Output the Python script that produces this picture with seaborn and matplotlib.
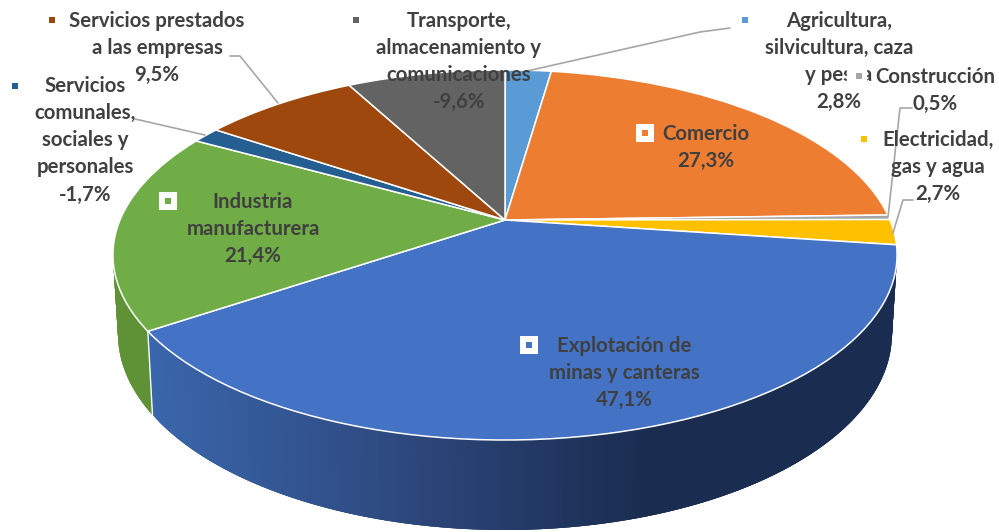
import numpy as np
import matplotlib
matplotlib.use("Agg")
import matplotlib.pyplot as plt
from matplotlib.path import Path
from matplotlib.transforms import Transform
import seaborn as sns

# ---- data ----
sectors = ["Agricultura, silvicultura, caza y pesca", "Comercio", "Construcción",
           "Electricidad, gas y agua", "Explotación de minas y canteras",
           "Industria manufacturera", "Servicios comunales, sociales y personales",
           "Servicios prestados a las empresas", "Transporte, almacenamiento y comunicaciones"]
variation = [2.8, 27.3, 0.5, 2.7, 47.1, 21.4, -1.7, 9.5, -9.6]
slice_colors = ["#5B9BD5", "#ED7D31", "#A5A5A5", "#FFC000", "#4472C4",
                "#70AD47", "#255E91", "#9E480E", "#636363"]
label_lines = ["Agricultura,\nsilvicultura, caza\ny pesca\n2,8%", "Comercio\n27,3%",
               "Construcción\n0,5%", "Electricidad,\ngas y agua\n2,7%",
               "Explotación de\nminas y canteras\n47,1%", "Industria\nmanufacturera\n21,4%",
               "Servicios\ncomunales,\nsociales y\npersonales\n-1,7%",
               "Servicios prestados\na las empresas\n9,5%",
               "Transporte,\nalmacenamiento y\ncomunicaciones\n-9,6%"]
label_xy = [(839, 11), (706, 124), (935, 67), (938, 130), (624, 336), (253, 192),
            (85, 76), (157, 11), (459, 11)]
key_xy = [(745, 20), (645, 133), (859, 76), (864, 139), (529, 345), (168, 201),
          (15, 86), (52, 20), (356, 20)]
key_white = [False, True, False, False, True, True, False, False, False]
leaders = [([730, 700, 527], [28, 32, 71]), ([912, 900, 888], [108, 108, 217]),
           ([913, 903, 893], [200, 200, 233]), ([230, 240, 278], [56, 56, 103]),
           ([135, 205], [119, 135])]

sns.set_theme(style="white")
palette = sns.color_palette(slice_colors)
FONT = "Lato"
TEXT = "#404040"
LEAD = "#A6A6A6"


class Perspective(Transform):
    """Maps the unit-circle pie to the tilted disc (pixel coordinates)."""
    input_dims = output_dims = 2
    is_separable = False
    has_inverse = False

    def __init__(self, cx, cy, a, b, k):
        super().__init__()
        self.p = (cx, cy, a, b, k)

    def transform_non_affine(self, values):
        cx, cy, a, b, k = self.p
        v = np.asarray(values, float)
        w = 1 + k * v[:, 1]
        return np.column_stack([cx + a * v[:, 0] / w, cy - b * v[:, 1] / w])

    def transform_path_non_affine(self, path):
        return Path(self.transform_non_affine(path.vertices), path.codes)


fig = plt.figure(figsize=(9.99, 5.32), dpi=100)
ax = fig.add_axes([0, 0, 1, 1])
wedges, _ = ax.pie(np.abs(variation), startangle=90, counterclock=False, colors=palette,
                   wedgeprops=dict(edgecolor="white", linewidth=1.1))
ax.set_aspect("auto")
ax.set_xlim(0, 999)
ax.set_ylim(532, 0)
ax.axis("off")

top = Perspective(505, 220, 385, 178.4, 0.189)
bottom = Perspective(505, 297, 380, 189, 0.189)
for w in wedges:
    w.set_transform(top + ax.transData)
    w.set_zorder(3)


def rim(t):
    th = np.radians(np.atleast_1d(t))
    pts = np.column_stack([np.cos(th), np.sin(th)])
    return top.transform_non_affine(pts), bottom.transform_non_affine(pts)


def side_colour(x):
    stops_x = [150, 390, 650]
    r = np.interp(x, stops_x, [0x3A, 0x2E, 0x1A])
    g = np.interp(x, stops_x, [0x66, 0x4A, 0x2C])
    b = np.interp(x, stops_x, [0xAB, 0x80, 0x4F])
    return (r / 255, g / 255, b / 255)


def side_wall(t1, t2, colour_fn):
    # each strip overlaps the next one to hide seams
    angles = np.linspace(t1, t2, 141)
    up, lo = rim(angles)
    n = len(angles)
    for i in range(n - 1):
        j = min(i + 3, n - 1)
        c = colour_fn(0.5 * (up[i, 0] + up[i + 1, 0]))
        ax.fill([up[i, 0], up[j, 0], lo[j, 0], lo[i, 0]],
                [up[i, 1], up[j, 1], lo[j, 1], lo[i, 1]],
                facecolor=c, edgecolor="none", zorder=1)


expl = wedges[4]
indu = wedges[5]
side_wall(expl.theta1, expl.theta2, side_colour)
side_wall(indu.theta2 - 45, indu.theta2, lambda x: "#5F9136")
u, l = rim(expl.theta1)
ax.plot([u[0, 0], l[0, 0]], [u[0, 1], l[0, 1]], color="white", lw=1.0, zorder=2)

for xs, ys in leaders:
    ax.plot(xs, ys, color=LEAD, lw=1.2, zorder=4)

for text, (x, y) in zip(label_lines, label_xy):
    ax.text(x, y, text, ha="center", va="top", family=FONT, weight="bold", fontsize=14.65,
            color=TEXT, linespacing=1.445, zorder=5)

# white patch left by the overlapping "Construcción" label
ax.fill([847, 866, 866, 847], [64, 64, 92, 92], color="white", zorder=5.5)

for (x, y), white, c in zip(key_xy, key_white, palette):
    if white:
        ax.scatter([x], [y], marker="s", s=165, color="white", linewidths=0, zorder=6)
    ax.scatter([x], [y], marker="s", s=20, color=[c], linewidths=0, zorder=7)

fig.savefig("out.png", dpi=100)
